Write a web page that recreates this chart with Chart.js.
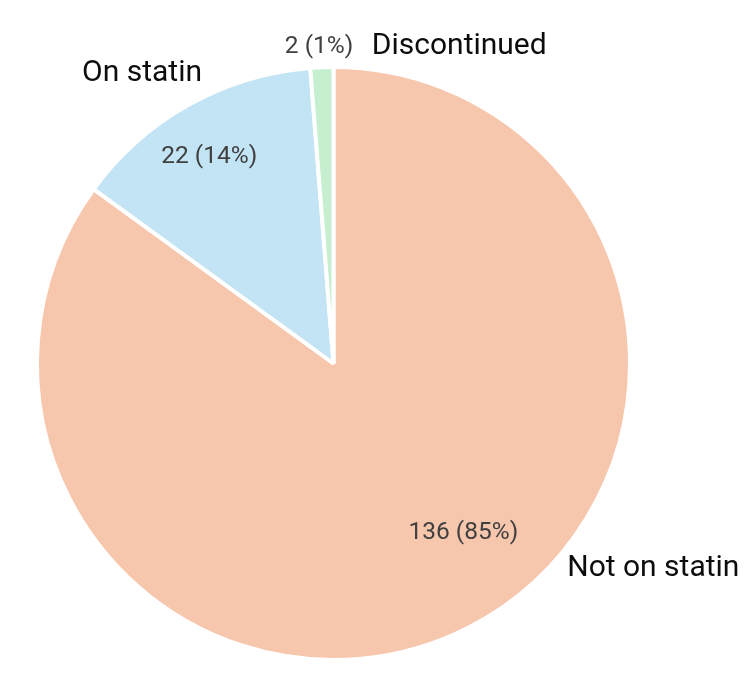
<!DOCTYPE html>
<html><head><meta charset="utf-8">
<script src="https://cdn.jsdelivr.net/npm/chart.js@4.4.1/dist/chart.umd.min.js"></script>
<style>html,body{margin:0;padding:0;background:#fff}#wrap{width:750px;height:675px;position:relative}</style>
</head><body><div id="wrap"><canvas id="c" width="750" height="675"></canvas></div>
<script>
const categories = ["Not on statin", "On statin", "Discontinued"];
const counts = [136, 22, 2];
const percentLabels = ["85%", "14%", "1%"];
const colors = ["#F6C6AD", "#C3E4F4", "#C6EFCF"];

// label placement relative to pie centre, in units of radius (dx, dy)
const valuePos = [[0.441, 0.576], [-0.422, -0.703], [-0.049, -1.076]];
const namePos = [[1.086, 0.695], [-0.650, -0.984], [0.427, -1.076]];

const labelPlugin = {
  id: 'pieLabels',
  afterDatasetsDraw(chart) {
    const ctx = chart.ctx;
    const meta = chart.getDatasetMeta(0);
    const arc = meta.data[0];
    const cx = arc.x, cy = arc.y, r = arc.outerRadius - 2;
    ctx.save();
    ctx.textBaseline = 'middle';
    ctx.textAlign = 'center';
    meta.data.forEach((a, i) => {
      ctx.font = '24.5px Roboto, sans-serif';
      ctx.fillStyle = '#404040';
      ctx.fillText(counts[i] + ' (' + percentLabels[i] + ')', cx + valuePos[i][0] * r, cy + valuePos[i][1] * r);
      ctx.font = '30px Roboto, sans-serif';
      ctx.fillStyle = '#0d0d0d';
      ctx.fillText(categories[i], cx + namePos[i][0] * r, cy + namePos[i][1] * r);
    });
    ctx.restore();
  }
};

new Chart(document.getElementById('c'), {
  type: 'pie',
  data: {
    labels: categories,
    datasets: [{
      data: counts,
      backgroundColor: colors,
      borderColor: '#ffffff',
      borderWidth: 4,
      hoverOffset: 0
    }]
  },
  options: {
    responsive: false,
    animation: false,
    layout: { padding: { left: 35, right: 118, top: 65, bottom: 13 } },
    plugins: { legend: { display: false }, tooltip: { enabled: false } }
  },
  plugins: [labelPlugin]
});
</script>
</body></html>
